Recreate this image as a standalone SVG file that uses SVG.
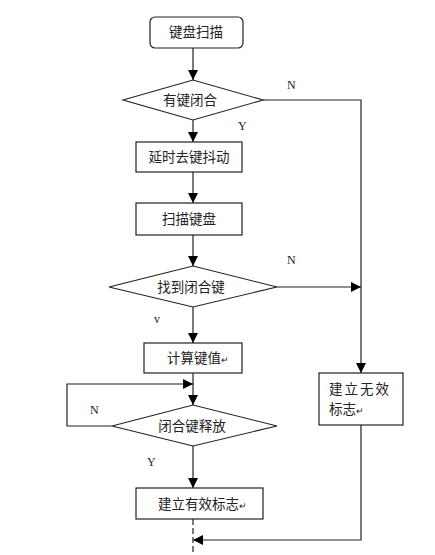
<svg xmlns="http://www.w3.org/2000/svg" width="435" height="555" viewBox="0 0 435 555">
<defs>
<marker id="ah" markerWidth="10" markerHeight="10" refX="10" refY="5" orient="auto" markerUnits="userSpaceOnUse">
<path d="M0,0 L10,5 L0,10 Z" fill="#000"/>
</marker>
<style>
.s{fill:#fff;stroke:#222;stroke-width:1.2}
.c{fill:none;stroke:#222;stroke-width:1.2}
.t{font-family:"Noto Sans CJK SC","Liberation Sans",sans-serif;font-size:13.5px;fill:#222}
.l{font-family:"Liberation Serif",serif;font-size:12px;fill:#222}
.m{font-size:9px}
</style>
</defs>
<rect width="435" height="555" fill="#fff"/>
<g id="connectors">
<line class="c" x1="193" y1="48" x2="193" y2="80" marker-end="url(#ah)"/>
<line class="c" x1="193" y1="120" x2="193" y2="142" marker-end="url(#ah)"/>
<line class="c" x1="193" y1="172" x2="193" y2="203" marker-end="url(#ah)"/>
<line class="c" x1="193" y1="235" x2="193" y2="266" marker-end="url(#ah)"/>
<line class="c" x1="193" y1="307" x2="193" y2="343" marker-end="url(#ah)"/>
<line class="c" x1="193" y1="373" x2="193" y2="405" marker-end="url(#ah)"/>
<line class="c" x1="193" y1="446" x2="193" y2="488" marker-end="url(#ah)"/>
<polyline class="c" points="263,100 361,100 361,373" marker-end="url(#ah)"/>
<line class="c" x1="277" y1="287" x2="361" y2="287" marker-end="url(#ah)"/>
<polyline class="c" points="112,426 67,426 67,384 193,384" marker-end="url(#ah)"/>
<polyline class="c" points="361,425 361,540 193,540" marker-end="url(#ah)"/>
<line class="c" x1="193" y1="519" x2="193" y2="555" stroke-dasharray="6,3"/>
</g>
<g id="n1">
<rect class="s" x="150" y="17" width="93" height="31" rx="5"/>
<text class="t" x="196" y="37" text-anchor="middle">键盘扫描</text>
</g>
<g id="d1">
<polygon class="s" points="123,100 193,80 263,100 193,120"/>
<text class="t" x="190" y="105" text-anchor="middle">有键闭合</text>
</g>
<g id="n2">
<rect class="s" x="136" y="142" width="106" height="30"/>
<text class="t" x="189" y="162" text-anchor="middle">延时去键抖动</text>
</g>
<g id="n3">
<rect class="s" x="136" y="203" width="106" height="32"/>
<text class="t" x="189" y="224" text-anchor="middle">扫描键盘</text>
</g>
<g id="d2">
<polygon class="s" points="109,287 193,266 277,287 193,307"/>
<text class="t" x="191" y="292" text-anchor="middle">找到闭合键</text>
</g>
<g id="n4">
<rect class="s" x="144" y="343" width="98" height="30"/>
<text class="t" x="167" y="363">计算键值<tspan class="m">↵</tspan></text>
</g>
<g id="d3">
<polygon class="s" points="112,426 193,405 277,426 193,446"/>
<text class="t" x="192" y="431" text-anchor="middle">闭合键释放</text>
</g>
<g id="n5">
<rect class="s" x="136" y="488" width="127" height="31"/>
<text class="t" x="158" y="509">建立有效标志<tspan class="m">↵</tspan></text>
</g>
<g id="n6">
<rect class="s" x="319" y="373" width="84" height="52"/>
<text class="t" x="329" y="394" letter-spacing="2">建立无效</text>
<text class="t" x="329" y="414">标志<tspan class="m">↵</tspan></text>
</g>
<g id="labels">
<text class="l" x="287" y="89">N</text>
<text class="l" x="238" y="130">Y</text>
<text class="l" x="287" y="264">N</text>
<text class="l" x="154" y="323">v</text>
<text class="l" x="90" y="414">N</text>
<text class="l" x="147" y="466">Y</text>
</g>
</svg>
